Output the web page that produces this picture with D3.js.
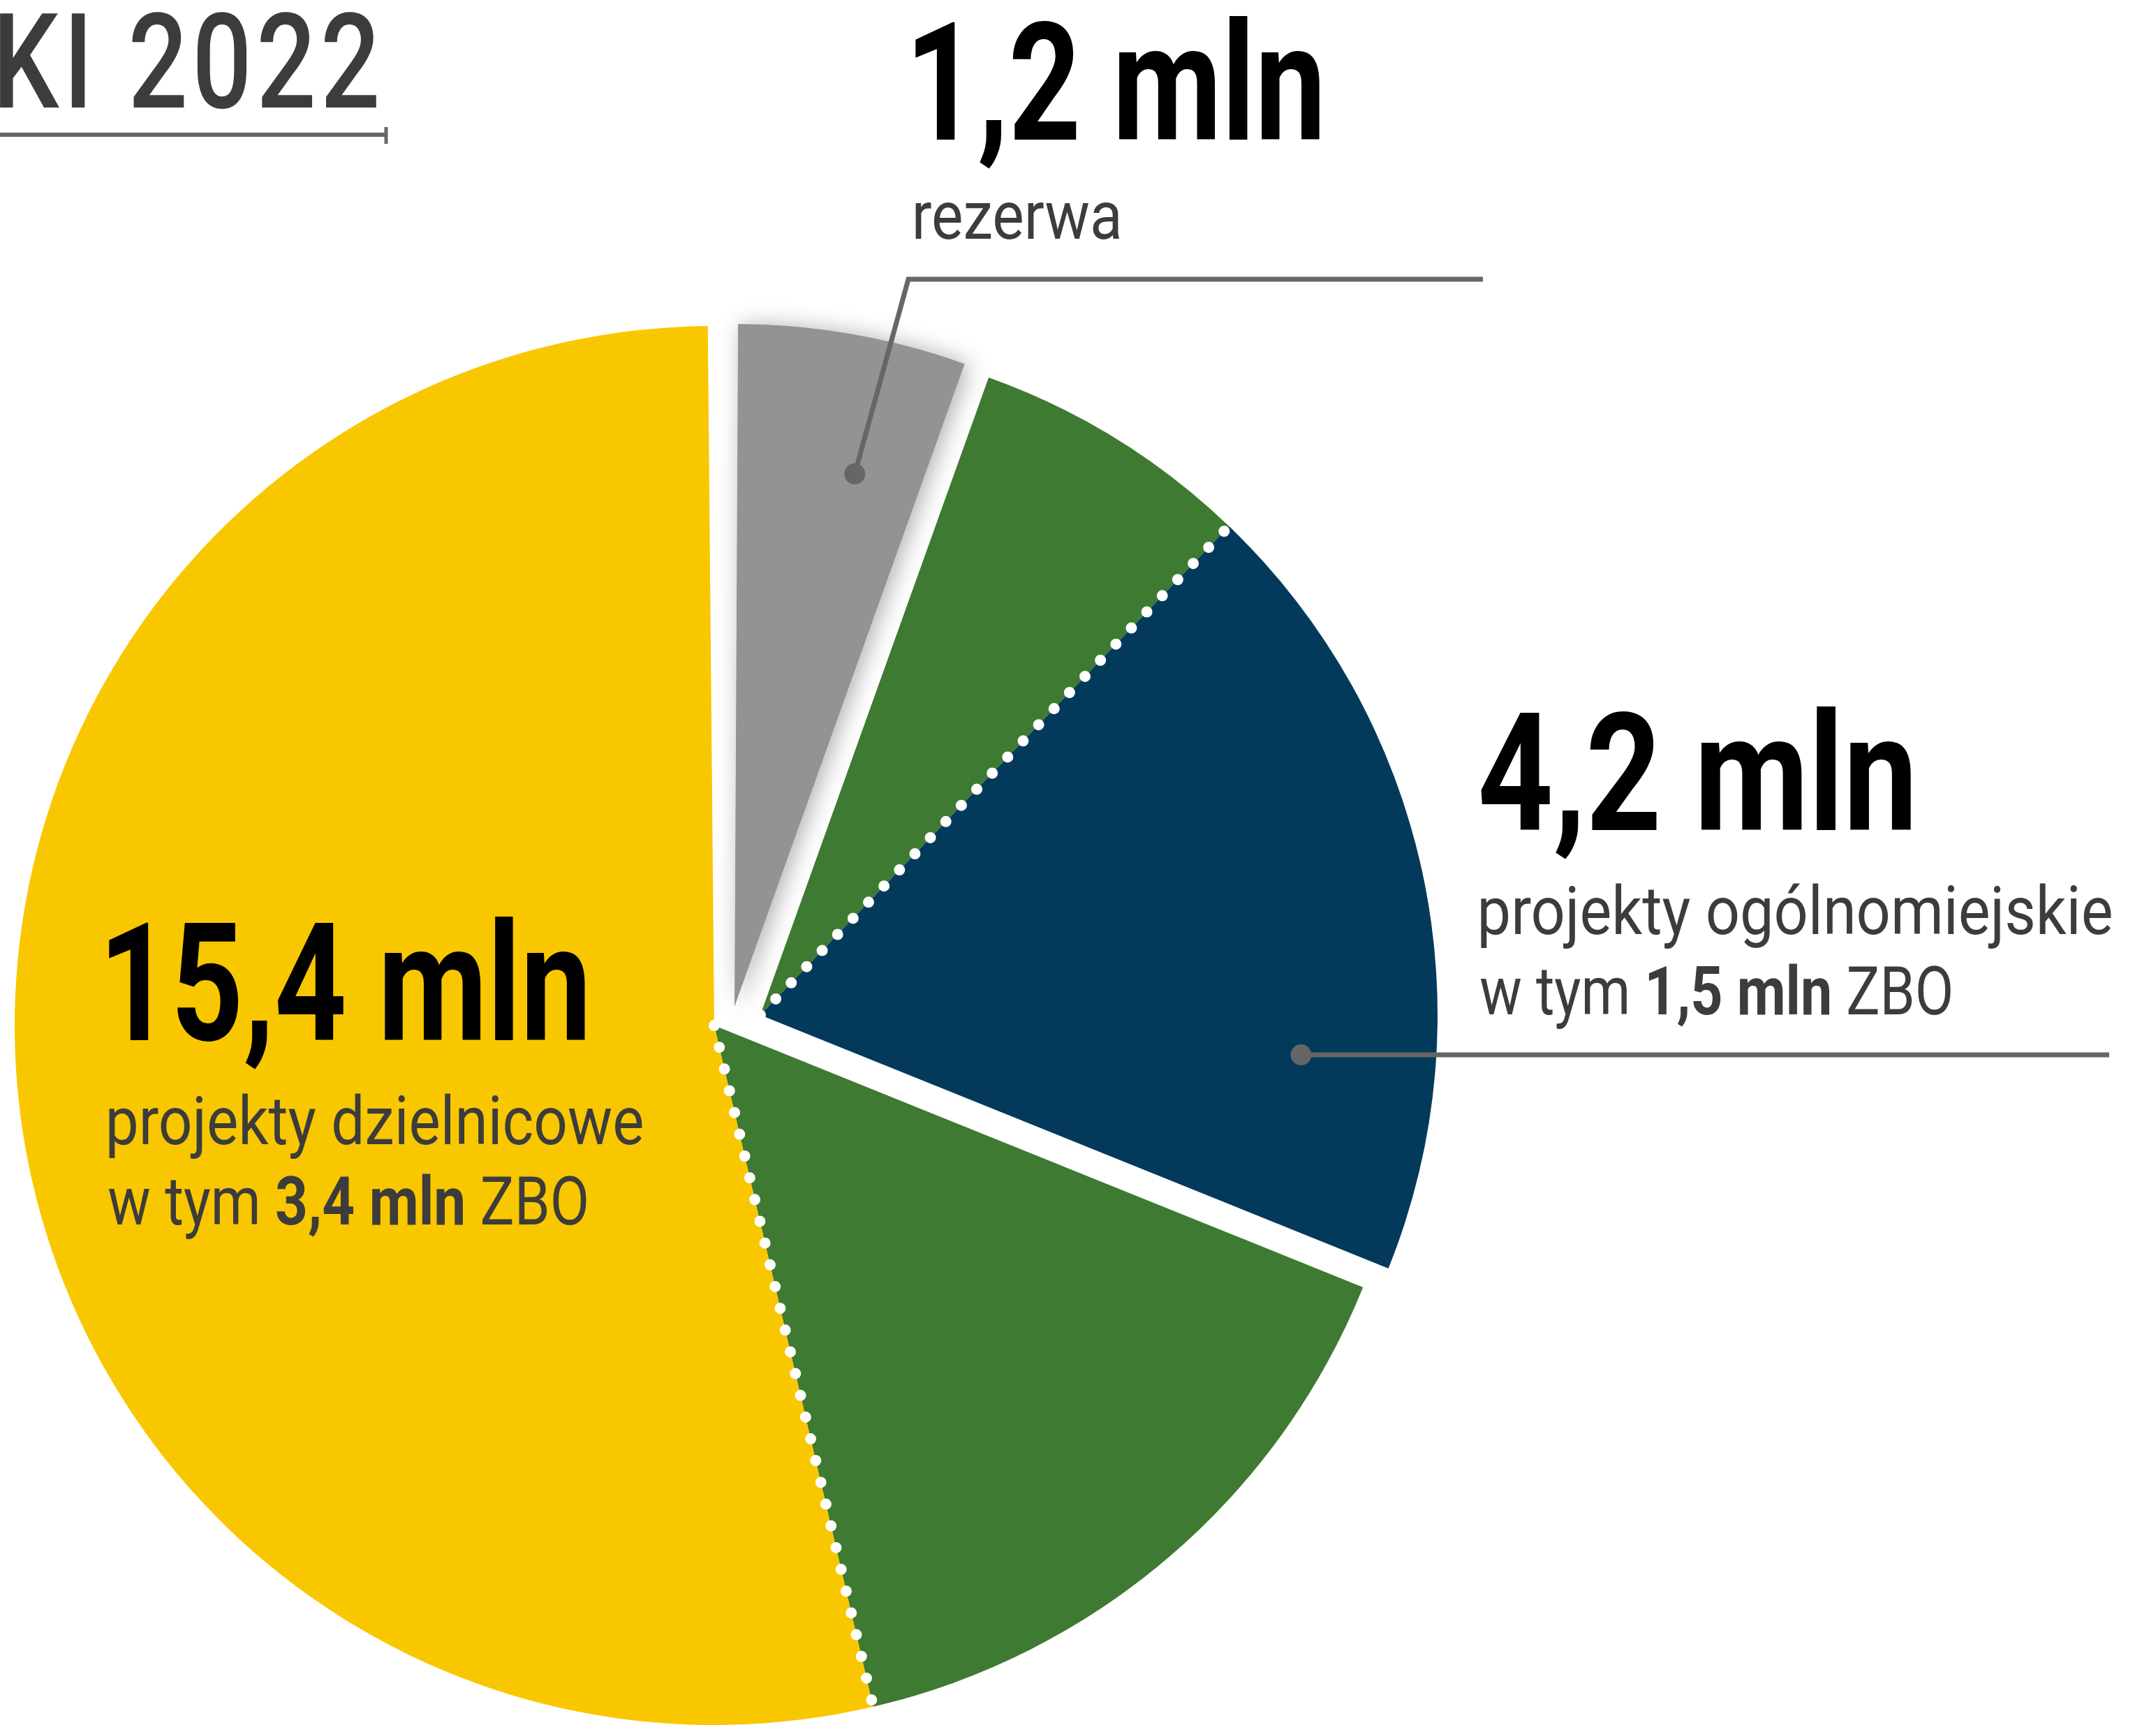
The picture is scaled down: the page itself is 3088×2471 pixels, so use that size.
<!DOCTYPE html>
<html>
<head>
<meta charset="utf-8">
<script src="https://cdn.jsdelivr.net/npm/d3@7"></script>
<style>
  html, body { margin: 0; padding: 0; background: #fff; }
  svg { display: block; }
  text { font-family: Roboto, "Open Sans", sans-serif; white-space: pre; }
</style>
</head>
<body>
<div id="chart"></div>
<script>
//svg container
const svgWidth = 3088
const svgHeight = 2471

// slices, clockwise from 12 o'clock; share = % of the circle as drawn
const sliceNames = ["rezerwa", "ZBO ogólnomiejskie", "ogólnomiejskie", "ZBO dzielnicowe", "dzielnicowe"]
const sliceShare = [5.39, 6.69, 18.94, 15.25, 53.5]
const sliceGroup = ["rezerwa", "miasto", "miasto", "dzielnice", "dzielnice"]

// labels
const labelValue = ["1,2 mln", "4,2 mln", "15,4 mln"]
const labelName = ["rezerwa", "projekty ogólnomiejskie", "projekty dzielnicowe"]
const labelZbo = [null, "1,5 mln", "3,4 mln"]
const titleText = "KI 2022"

// styles / layout
const color = d3.scaleOrdinal()
  .domain(sliceNames)
  .range(["#939393", "#3e7a31", "#033a5c", "#3e7a31", "#f9c700"])
const cx = 1023, cy = 1469
const startDeg = 0.3
const groupPos = {
  dzielnice: {dx: 0, dy: 0, r: 1002},
  miasto: {dx: 66, dy: -15, r: 970},
  rezerwa: {dx: 29, dy: -27, r: 978}
}
// where each label sits (ink left, baselines, ink widths)
const labelPos = [
  {x: 1311, valueY: 200, valueW: 579, nameY: 342, nameW: 292, slice: 0, t: 0.64, rf: 0.8, lineEnd: 2124},
  {x: 2121, valueY: 1189, valueW: 616, nameY: 1338, nameW: 903, zboY: 1453, zboW: 673, slice: 2, t: 0.73, rf: 0.8, lineEnd: 3021},
  {x: 156, valueY: 1490, valueW: 682, nameY: 1639, nameW: 764, zboY: 1754, zboW: 684}
]
const bigSize = 235, smallSize = 96
const textDark = "#3c3c3b", leaderColor = "#666"

const svg = d3.select("#chart")
  .append("svg")
  .attr("width", svgWidth)
  .attr("height", svgHeight)

const defs = svg.append("defs")
const lift = defs.append("filter").attr("id", "lift")
  .attr("x", "-30%").attr("y", "-30%").attr("width", "160%").attr("height", "160%")
lift.append("feDropShadow")
  .attr("dx", 6).attr("dy", 2)
  .attr("stdDeviation", 16)
  .attr("flood-color", "#000")
  .attr("flood-opacity", 0.32)

// pie
const data = sliceNames.map((name, i) => ({name: name, share: sliceShare[i], group: sliceGroup[i]}))
const start = startDeg * Math.PI / 180
const pie = d3.pie()
  .sort(null)
  .value(d => d.share)
  .startAngle(start)
  .endAngle(start + 2 * Math.PI * d3.sum(sliceShare) / 100)
const arcs = pie(data)
const arc = d3.arc().innerRadius(0)

const gx = d => cx + groupPos[d.data.group].dx
const gy = d => cy + groupPos[d.data.group].dy
const gr = d => groupPos[d.data.group].r

svg.append("g")
  .selectAll("path")
  .data(arcs)
  .join("path")
  .attr("transform", d => `translate(${gx(d)}, ${gy(d)})`)
  .attr("d", d => arc.outerRadius(gr(d))(d))
  .attr("fill", d => color(d.data.name))
  .attr("filter", d => d.data.group === "rezerwa" ? "url(#lift)" : null)

// dotted lines between ZBO and the rest inside the same group
const inner = arcs.filter((d, i) => i < arcs.length - 1 && arcs[i + 1].data.group === d.data.group)
svg.append("g")
  .selectAll("line")
  .data(inner)
  .join("line")
  .attr("x1", gx)
  .attr("y1", gy)
  .attr("x2", d => gx(d) + gr(d) * Math.sin(d.endAngle))
  .attr("y2", d => gy(d) - gr(d) * Math.cos(d.endAngle))
  .attr("stroke", "#fff")
  .attr("stroke-width", 16)
  .attr("stroke-linecap", "round")
  .attr("stroke-dasharray", "0 32")

// leader lines
labelPos.filter(p => p.slice !== undefined).forEach(p => {
  const d = arcs[p.slice]
  const a = d.startAngle + p.t * (d.endAngle - d.startAngle)
  const px = gx(d) + p.rf * gr(d) * Math.sin(a)
  const py = gy(d) - p.rf * gr(d) * Math.cos(a)
  const ly = (p.zboY || p.nameY) + 58
  // rezerwa: bent line up to the label, ogólnomiejskie: straight line to the right
  const pts = p.zboY ? [[px, ly], [p.lineEnd, ly]] : [[px, py], [p.x - 10, ly], [p.lineEnd, ly]]
  svg.append("path")
    .attr("d", d3.line()(pts))
    .attr("fill", "none")
    .attr("stroke", leaderColor)
    .attr("stroke-width", 7)
  svg.append("circle")
    .attr("cx", px)
    .attr("cy", p.zboY ? ly : py)
    .attr("r", 15)
    .attr("fill", leaderColor)
})

// text helpers: fit the ink box horizontally (condensed look)
const ctx = document.createElement("canvas").getContext("2d")
function inkBox(segs, size) {
  let adv = 0, left = 0, right = 0
  segs.forEach((s, i) => {
    ctx.font = `${s.weight} ${size}px Roboto`
    const m = ctx.measureText(s.text)
    if (i === 0) left = -m.actualBoundingBoxLeft
    if (i === segs.length - 1) right = adv + m.actualBoundingBoxRight
    adv += m.width
  })
  return {left: left, right: right}
}
function fitText(segs, size, x, y, w, fill) {
  const box = inkBox(segs, size)
  const s = w / (box.right - box.left)
  const t = svg.append("text")
    .attr("transform", `translate(${x - s * box.left}, ${y}) scale(${s}, 1)`)
    .attr("font-size", size)
    .attr("fill", fill)
  segs.forEach(seg => {
    t.append("tspan").attr("font-weight", seg.weight).text(seg.text)
  })
}

labelPos.forEach((p, i) => {
  fitText([{text: labelValue[i], weight: 700}], bigSize, p.x, p.valueY, p.valueW, "#000")
  fitText([{text: labelName[i], weight: 400}], smallSize, p.x, p.nameY, p.nameW, textDark)
  if (labelZbo[i]) {
    fitText([
      {text: "w tym ", weight: 400},
      {text: labelZbo[i], weight: 700},
      {text: " ZBO", weight: 400}
    ], smallSize, p.x, p.zboY, p.zboW, textDark)
  }
})

// title (cut at the left edge), spaced like the original
const titleSize = 190, titleLs = 8
const ink2022 = inkBox([{text: "2022", weight: 500}], titleSize)
const ts = 350 / (ink2022.right - ink2022.left + 3 * titleLs)
const inkTitle = inkBox([{text: titleText, weight: 500}], titleSize)
const titleRight = inkTitle.right + (titleText.length - 1) * titleLs
svg.append("text")
  .attr("transform", `translate(${539 - ts * titleRight}, 154) scale(${ts}, 1)`)
  .attr("font-size", titleSize)
  .attr("font-weight", 500)
  .attr("letter-spacing", titleLs)
  .attr("fill", textDark)
  .text(titleText)
svg.append("line")
  .attr("x1", 0).attr("x2", 553)
  .attr("y1", 193).attr("y2", 193)
  .attr("stroke", leaderColor)
  .attr("stroke-width", 6)
svg.append("line")
  .attr("x1", 553).attr("x2", 553)
  .attr("y1", 182).attr("y2", 206)
  .attr("stroke", leaderColor)
  .attr("stroke-width", 5)
</script>
</body>
</html>
